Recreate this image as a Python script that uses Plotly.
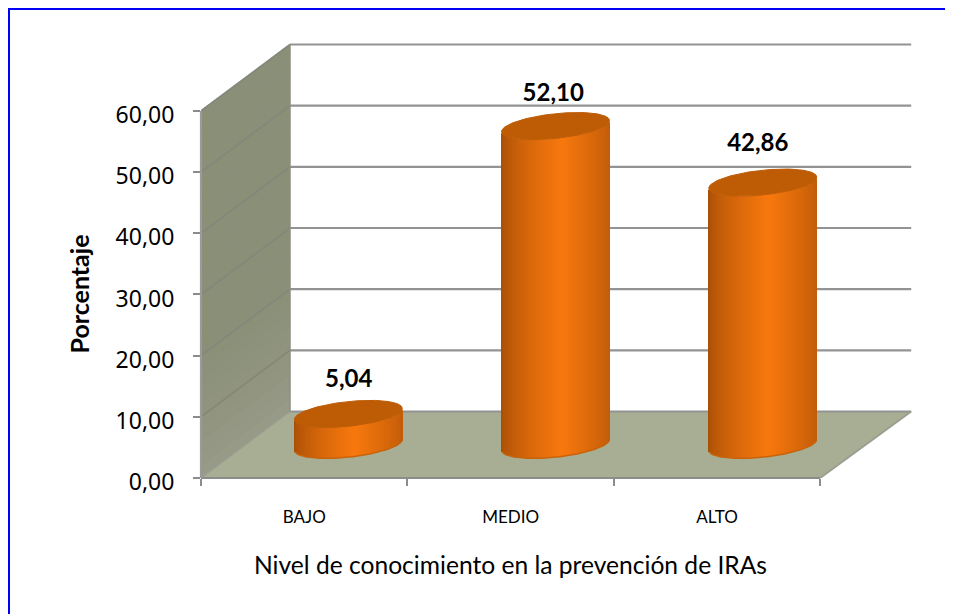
import numpy as np
import plotly.graph_objects as go

categories = ["BAJO", "MEDIO", "ALTO"]
values = [5.04, 52.10, 42.86]
value_labels = ["5,04", "52,10", "42,86"]
label_gap = [5.35, 5.0, 6.2]
y_ticks = [0, 10, 20, 30, 40, 50, 60]
y_tick_labels = ["0,00", "10,00", "20,00", "30,00", "40,00", "50,00", "60,00"]

FONT = "Lato"
W, H = 945, 606      # the page adds an 8 px margin on the left and the top
L, R, T, B = 193, 30, 32, 136
X0, Y0 = -0.5, 0.0
PX_X = 206.4   # px per category
PX_Y = 6.117   # px per percentage unit
X1 = X0 + (W - L - R) / PX_X
Y1 = Y0 + (H - T - B) / PX_Y
DX, DY = 89 / PX_X, 66.5 / PX_Y   # depth of the floor in data units
A, BB, TILT = 54 / PX_X, 12.4 / PX_Y, 5.5 / PX_Y  # cylinder ellipse
N = 108


def mix(c1, c2, t):
    return tuple(a + (b - a) * t for a, b in zip(c1, c2))


def body_colour(u):
    edge, mid = (165, 78, 6), (248, 120, 14)
    peak = 0.12
    t = 1 - abs(u - peak) / (1 + abs(peak))
    t = t ** 0.65
    return "rgb(%d,%d,%d)" % mix(edge, mid, t)


def px(x):
    return (x - L) / (W - L - R)


def py(y):
    return 1 - (y - T) / (H - T - B)


shapes = []
# left wall, banded so that it lightens towards the floor
BANDS = 30
for k in range(BANDS):
    v0, v1 = 60 * k / BANDS, 60 * (k + 1) / BANDS + 0.3
    c = mix((150, 154, 134), (138, 143, 120), min(1, (k / BANDS) * 3))
    p = f"M {X0} {v0} L {X0} {min(v1, 60)} L {X0+DX} {min(v1, 60)+DY} L {X0+DX} {v0+DY} Z"
    shapes.append(dict(type="path", path=p, fillcolor="rgb(%d,%d,%d)" % c, line=dict(width=0), layer="below"))
# floor
floor_right = X0 + 3
back_right = floor_right + 91 / PX_X
fl = f"M {X0} 0 L {floor_right} 0 L {back_right} {DY} L {X0+DX} {DY} Z"
shapes.append(dict(type="path", path=fl, fillcolor="#A7AE93", line=dict(width=0), layer="below"))
for v in y_ticks:
    # back wall grid
    shapes.append(dict(type="line", x0=X0 + DX, x1=back_right, y0=v + DY, y1=v + DY,
                       line=dict(color="#939393", width=2.2), layer="below"))
    # side wall grid
    if v > 0:
        shapes.append(dict(type="line", x0=X0, x1=X0 + DX, y0=v, y1=v + DY,
                           line=dict(color="#83887A", width=1.8), layer="below"))
# floor edge on the right and wall edge
shapes.append(dict(type="line", x0=floor_right, x1=back_right, y0=0, y1=DY,
                   line=dict(color="#9A9E90", width=1.8), layer="below"))
shapes.append(dict(type="line", x0=X0, x1=X0 + DX, y0=0, y1=DY,
                   line=dict(color="#9A9E90", width=1.5), layer="below"))
shapes.append(dict(type="line", x0=X0 + DX, x1=X0 + DX, y0=DY, y1=60 + DY,
                   line=dict(color="#8C8F80", width=1.5), layer="below"))
# axis lines (y=0 and x=left), not clipped
shapes.append(dict(type="line", xref="x", yref="paper", x0=X0, x1=X0 + 3, y0=0, y1=0,
                   line=dict(color="#8C8C8C", width=2.2)))
shapes.append(dict(type="line", xref="paper", yref="y", x0=0, x1=0, y0=0, y1=60,
                   line=dict(color="#9A9A9A", width=2.2)))
# blue frame: top and left only
shapes.append(dict(type="line", xref="paper", yref="paper", x0=px(0.5), x1=px(W), y0=py(0.5), y1=py(0.5),
                   line=dict(color="#0000F5", width=3)))
shapes.append(dict(type="line", xref="paper", yref="paper", x0=px(0.5), x1=px(0.5), y0=py(0), y1=py(H),
                   line=dict(color="#0000F5", width=3)))

fig = go.Figure()

us = (np.arange(N) + 0.5) / N * 2 - 1
for i, (cat, val) in enumerate(zip(categories, values)):
    cx = i * 1.004 + DX / 2 - 0.002
    cy = DY / 2
    arc = np.sqrt(1 - us ** 2)
    lower = TILT * us - BB * arc
    fig.add_trace(go.Bar(
        x=cx + us * A, y=[val] * N, base=cy + lower, width=2 * A / N * 1.25,
        marker=dict(color=[body_colour(u) for u in us], line=dict(width=0)),
        showlegend=False, hoverinfo="skip", name=cat))
    t = np.linspace(0, 2 * np.pi, 181)
    ex = cx + A * np.cos(t)
    ey = cy + val + TILT * np.cos(t) + BB * np.sin(t)
    fig.add_trace(go.Scatter(x=ex, y=ey, mode="lines", fill="toself", fillcolor="#BE5C06",
                             line=dict(color="#BE5C06", width=1), showlegend=False, hoverinfo="skip"))
    # smooth rim on the base
    fig.add_trace(go.Scatter(x=cx + us * A, y=cy + lower, mode="lines",
                             line=dict(color="#C8630A", width=1.5), showlegend=False, hoverinfo="skip"))

fig.add_trace(go.Scatter(
    x=[i + DX / 2 - 0.009 * i for i in range(3)],
    y=[v + DY / 2 + g for v, g in zip(values, label_gap)],
    mode="text", text=value_labels, textposition="middle center",
    textfont=dict(family=FONT, size=24, color="black", weight="bold"),
    showlegend=False, hoverinfo="skip"))

fig.update_layout(
    width=W, height=H, autosize=False, barmode="overlay",
    paper_bgcolor="white", plot_bgcolor="white",
    margin=dict(l=L, r=R, t=T, b=B, pad=0),
    shapes=shapes,
    font=dict(family=FONT, color="black"),
    xaxis=dict(
        range=[X0, X1], showgrid=False, zeroline=False, showline=False,
        tickmode="array", tickvals=[0, 1, 2], ticktext=categories,
        ticks="", ticklabelstandoff=27, tickfont=dict(family=FONT, size=17, color="black"),
        minor=dict(tickmode="array", tickvals=[-0.5, 0.5, 1.5, 2.5], ticks="outside",
                   ticklen=7, tickwidth=2, tickcolor="#8C8C8C"),
    ),
    yaxis=dict(
        range=[Y0, Y1], showgrid=False, zeroline=False, showline=False,
        tickmode="array", tickvals=y_ticks, ticktext=y_tick_labels,
        ticks="outside", ticklen=7, tickwidth=2, tickcolor="#8C8C8C",
        ticklabelstandoff=14, ticklabelshift=4,
        tickfont=dict(family="Noto Sans", size=23, color="black"),
    ),
    annotations=[
        dict(text="Nivel de conocimiento en la prevención de IRAs", xref="x", x=1, yref="paper", y=py(556),
             showarrow=False, font=dict(family=FONT, size=24.6, color="black"), xanchor="center", yanchor="middle"),
        dict(text="<b>Porcentaje</b>", xref="paper", x=px(71), yref="y", y=30, textangle=-90,
             showarrow=False, font=dict(family=FONT, size=25, color="black"), xanchor="center", yanchor="middle"),
    ],
)
fig.write_html("out.html")
